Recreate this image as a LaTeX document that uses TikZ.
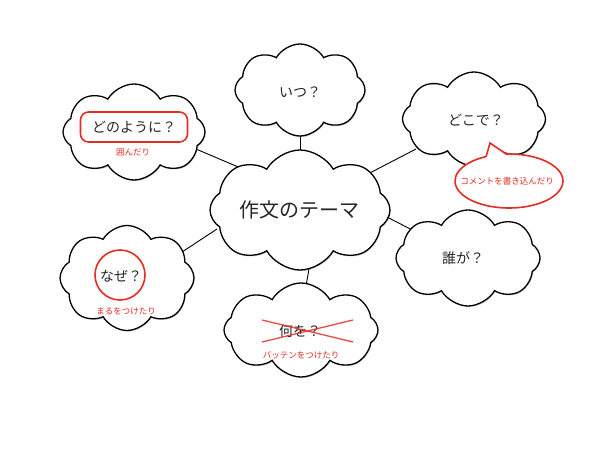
\documentclass[tikz,border=0pt]{standalone}
\usepackage{fontspec}
\setmainfont{Noto Sans CJK JP}
\usetikzlibrary{shapes.symbols,shapes.callouts,backgrounds,shadows}
\definecolor{mred}{RGB}{228,45,35}
\tikzset{
  cloudbox/.style={cloud, cloud puffs=8, cloud puff arc=120, cloud ignores aspect,
    draw=black, line width=1.3pt, fill=white, inner sep=0pt,
    drop shadow={shadow xshift=0.8pt, shadow yshift=-1.2pt, opacity=0.35}},
  lbl/.style={font=\fontsize{14}{16}\selectfont, text=black!85},
  note/.style={font=\fontsize{8.5}{10}\selectfont, text=mred},
  conn/.style={line width=0.9pt, black},
  redmark/.style={draw=mred, line width=1.6pt}
}
\begin{document}
\begin{tikzpicture}[x=1pt,y=-1pt]
\useasboundingbox (0,0) rectangle (600,450);
% clouds
\node[cloudbox, minimum width=180pt, minimum height=120pt] (c) at (300,210) {};
\node[cloudbox, minimum width=130pt, minimum height=92pt] (when) at (300,90) {};
\node[cloudbox, minimum width=142pt, minimum height=96pt] (how) at (134,132) {};
\node[cloudbox, minimum width=143pt, minimum height=94pt] (where) at (474,119) {};
\node[cloudbox, minimum width=144pt, minimum height=96pt] (who) at (468,258) {};
\node[cloudbox, minimum width=134pt, minimum height=105pt] (why) at (127,278) {};
\node[cloudbox, minimum width=154pt, minimum height=94pt] (what) at (301,330) {};
% connector ends (hidden inside the clouds)
\coordinate (howA) at (183,143.5);  \coordinate (howB) at (250,172);
\coordinate (whereA) at (416,149);  \coordinate (whereB) at (364,176);
\coordinate (whoA) at (424,236);    \coordinate (whoB) at (381,214);
\coordinate (whyA) at (176,256);    \coordinate (whyB) at (217,229);
\coordinate (whatA) at (304,298);   \coordinate (whatB) at (311,257);
\coordinate (whenA) at (300,126);   \coordinate (whenB) at (300,162);
\begin{scope}[on background layer]
\draw[conn] (whenB) -- (whenA);
\draw[conn] (howB) -- (howA);
\draw[conn] (whereB) -- (whereA);
\draw[conn] (whoB) -- (whoA);
\draw[conn] (whyB) -- (whyA);
\draw[conn] (whatB) -- (whatA);
\end{scope}
% texts
\node[font=\fontsize{20}{24}\selectfont, text=black!85] (ct) at (299,210) {作文のテーマ};
\node[lbl] (whent) at (300,92) {いつ？};
\node[lbl] (wheret) at (476,120) {どこで？};
\node[lbl] (whot) at (463,258) {誰が？};
% how
\node[redmark, rounded corners=8pt, minimum width=107pt, minimum height=30pt, fill=white] (howbox) at (134,127) {};
\node[lbl] (howt) at (134,127) {どのように？};
\node[note] (hown) at (133,152) {囲んだり};
% why
\node[redmark, circle, minimum size=50pt] (whycirc) at (120,275) {};
\node[lbl] (whyt) at (121,276) {なぜ？};
\node[note] (whyn) at (126,311) {まるをつけたり};
% what
\node[lbl] (whatt) at (300,331) {何を？};
\coordinate (x1) at (262,320);
\coordinate (x2) at (353,342);
\coordinate (x3) at (262,342);
\coordinate (x4) at (353,320);
\draw[mred, line width=1.3pt, opacity=0.85] (x1) -- (x2);
\draw[mred, line width=1.3pt, opacity=0.85] (x3) -- (x4);
\node[note] (whatn) at (301,355) {バッテンをつけたり};
% speech bubble
\node[ellipse callout, redmark, fill=white, minimum width=108pt, minimum height=54pt,
  callout absolute pointer={(490,143)}, callout pointer arc=22] (bub) at (509,181) {};
\node[note] (bubt) at (507,181) {コメントを書き込んだり};
\end{tikzpicture}
\end{document}
